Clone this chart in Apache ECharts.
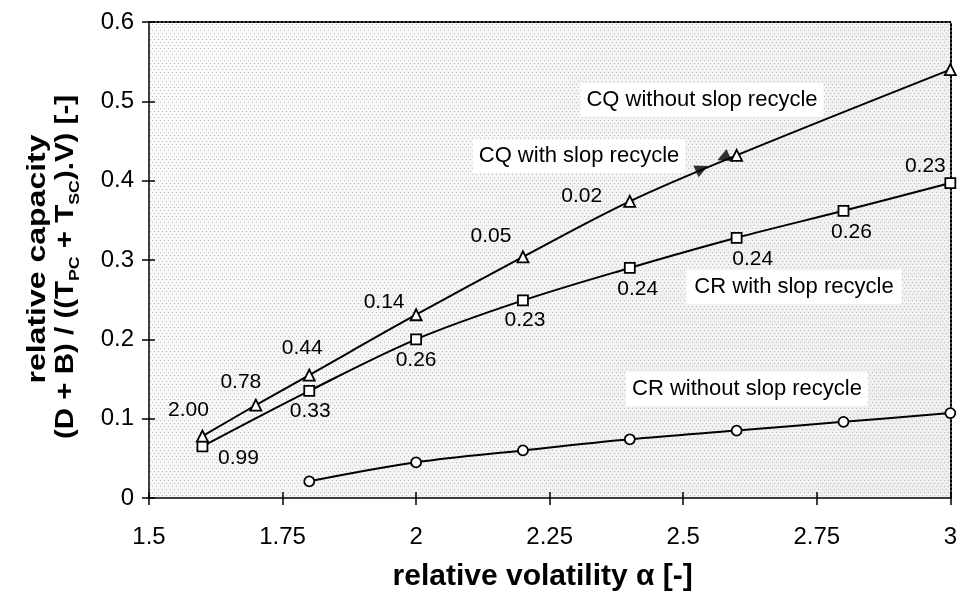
<!DOCTYPE html>
<html>
<head>
<meta charset="utf-8">
<script src="https://cdn.jsdelivr.net/npm/echarts@6/dist/echarts.min.js"></script>
<style>
  html, body { margin: 0; padding: 0; background: #fff; }
  #chart { width: 960px; height: 598px; }
</style>
</head>
<body>
<div id="chart"></div>
<script>
// Relative volatility (x) and relative capacity (y) for each configuration
const cqNoSlopX = [1.6, 1.7, 1.8, 2.0, 2.2, 2.4, 2.6, 3.0];
const cqNoSlopY = [0.078, 0.117, 0.155, 0.231, 0.304, 0.374, 0.432, 0.540];
const cqNoSlopLabels = ['2.00', '0.78', '0.44', '0.14', '0.05', '0.02', '', ''];

const cqSlopX = [2.535, 2.575];
const cqSlopY = [0.415, 0.429];

const crSlopX = [1.6, 1.8, 2.0, 2.2, 2.4, 2.6, 2.8, 3.0];
const crSlopY = [0.065, 0.135, 0.200, 0.249, 0.290, 0.328, 0.362, 0.397];
const crSlopLabels = ['0.99', '0.33', '0.26', '0.23', '0.24', '0.24', '0.26', '0.23'];

const crNoSlopX = [1.8, 2.0, 2.2, 2.4, 2.6, 2.8, 3.0];
const crNoSlopY = [0.021, 0.045, 0.060, 0.074, 0.085, 0.096, 0.107];

const xTicks = { min: 1.5, max: 3, interval: 0.25 };
const yTicks = { min: 0, max: 0.6, interval: 0.1 };

// label placement relative to each point (pixels)
const cqLabelOffsets = [[-14, -26], [-15, -23], [-7, -27], [-32, -13], [-32, -21], [-48, -5], [0, 0], [0, 0]];
const crLabelOffsets = [[36, 12], [1, 20], [0, 21], [2, 20], [8, 21], [16, 21], [8, 21], [-25, -17]];

const FONT = "'Liberation Sans', Arial, sans-serif";
const W = 960, H = 598;

// dotted plot-area fill, a little lighter towards the upper left
function stipple() {
  const c = document.createElement('canvas');
  c.width = W; c.height = H;
  const g = c.getContext('2d');
  const grad = g.createLinearGradient(149, 22, 953, 498);
  grad.addColorStop(0, '#fbfbfb');
  grad.addColorStop(0.5, '#f3f3f3');
  grad.addColorStop(1, '#eeeeee');
  g.fillStyle = grad;
  g.fillRect(0, 0, W, H);
  g.fillStyle = '#bdbdbd';
  for (let y = 0; y < H; y += 3) {
    const shift = (y / 3) % 2 === 0 ? 0 : 2;
    for (let x = shift; x < W; x += 4) g.fillRect(x, y, 1, 1);
  }
  return c;
}

function points(xs, ys, labels, offsets) {
  return xs.map((x, i) => {
    const item = { value: [x, ys[i]] };
    if (labels && labels[i]) {
      item.label = { show: true, formatter: labels[i], offset: offsets[i] };
    }
    return item;
  });
}

const dataLabel = {
  show: false, position: 'inside', color: '#000', fontSize: 21, fontFamily: FONT
};
const blackLine = { color: '#000', width: 2 };

const chart = echarts.init(document.getElementById('chart'), null, { renderer: 'canvas' });

const plainAxis = (extra) => Object.assign({
  type: 'value',
  splitLine: { show: false },
  axisLabel: { show: false },
  axisTick: { show: false },
  axisLine: { show: false, onZero: false }
}, extra);

chart.setOption({
  animation: false,
  backgroundColor: '#fff',
  grid: {
    left: 149, right: 7, top: 22, bottom: 100,
    show: true, borderWidth: 0,
    backgroundColor: { image: stipple(), repeat: 'no-repeat' }
  },
  xAxis: [
    plainAxis(Object.assign({}, xTicks, {
      position: 'bottom',
      axisLine: { show: true, onZero: false, lineStyle: { color: '#000', width: 1.5 } },
      axisTick: { show: true, length: 7, lineStyle: { color: '#000', width: 1.5 } },
      axisLabel: { show: true, color: '#000', fontSize: 24, fontFamily: FONT, margin: 27 },
      name: 'relative volatility α [-]',
      nameLocation: 'middle',
      nameGap: 64,
      nameTextStyle: { color: '#000', fontSize: 30, fontWeight: 'bold', fontFamily: FONT, padding: [0, 14, 0, 0] }
    })),
    plainAxis(Object.assign({}, xTicks, {
      position: 'bottom',
      axisTick: { show: true, inside: true, length: 6, lineStyle: { color: '#000', width: 1.5 } }
    })),
    plainAxis(Object.assign({}, xTicks, {
      position: 'top',
      axisLine: { show: true, onZero: false, lineStyle: { color: '#000', width: 2, type: [2, 2] } }
    }))
  ],
  yAxis: [
    plainAxis(Object.assign({}, yTicks, {
      position: 'left',
      axisLine: { show: true, onZero: false, lineStyle: { color: '#000', width: 1.5 } },
      axisTick: { show: true, length: 7, lineStyle: { color: '#000', width: 1.5 } },
      axisLabel: { show: true, color: '#000', fontSize: 24, fontFamily: FONT, margin: 15 }
    })),
    plainAxis(Object.assign({}, yTicks, {
      position: 'left',
      axisTick: { show: true, inside: true, length: 6, lineStyle: { color: '#000', width: 1.5 } }
    })),
    plainAxis(Object.assign({}, yTicks, {
      position: 'right',
      axisLine: { show: true, onZero: false, lineStyle: { color: '#000', width: 2, type: [2, 2] } }
    }))
  ],
  series: [
    {
      name: 'CR without slop recycle',
      type: 'line', smooth: 0.35,
      data: points(crNoSlopX, crNoSlopY),
      symbol: 'circle', symbolSize: 10,
      itemStyle: { color: '#fff', borderColor: '#000', borderWidth: 1.8 },
      lineStyle: blackLine, z: 3
    },
    {
      name: 'CR with slop recycle',
      type: 'line', smooth: 0.35,
      data: points(crSlopX, crSlopY, crSlopLabels, crLabelOffsets),
      symbol: 'rect', symbolSize: 10,
      itemStyle: { color: '#fff', borderColor: '#000', borderWidth: 1.8 },
      lineStyle: blackLine, label: dataLabel, z: 3
    },
    {
      name: 'CQ without slop recycle',
      type: 'line', smooth: 0.35,
      data: points(cqNoSlopX, cqNoSlopY, cqNoSlopLabels, cqLabelOffsets),
      symbol: 'triangle', symbolSize: 11,
      itemStyle: { color: '#fff', borderColor: '#000', borderWidth: 1.8 },
      lineStyle: blackLine, label: dataLabel, z: 3
    },
    {
      name: 'CQ with slop recycle',
      type: 'scatter',
      data: cqSlopX.map((x, i) => ({ value: [x, cqSlopY[i]], symbolRotate: i === 0 ? -66 : 114 })),
      symbol: 'triangle', symbolSize: 13,
      itemStyle: { color: '#000' }, z: 4
    }
  ],
  graphic: [
    {
      type: 'text', x: 38, y: 259, rotation: Math.PI / 2, scaleX: 1.28,
      style: { text: 'relative capacity', font: "bold 25px " + FONT, fill: '#000', align: 'center', verticalAlign: 'middle' }
    },
    {
      type: 'text', x: 66, y: 267, rotation: Math.PI / 2, scaleX: 1.18,
      style: {
        text: '(D + B) / ((T{s|PC} + T{s|SC}).V) [-]',
        font: "bold 25px " + FONT, fill: '#000', align: 'center', verticalAlign: 'middle',
        rich: {
          s: { fontSize: 15, fontWeight: 'bold', fontFamily: FONT, fill: '#000', verticalAlign: 'bottom', lineHeight: 32 }
        }
      }
    },
    {
      type: 'text', x: 702, y: 100, z: 10,
      style: { text: 'CQ without slop recycle', font: "22px " + FONT, fill: '#000', align: 'center', verticalAlign: 'middle',
        backgroundColor: '#fff', padding: [6, 6] }
    },
    {
      type: 'text', x: 579, y: 156, z: 10,
      style: { text: 'CQ with slop recycle', font: "22px " + FONT, fill: '#000', align: 'center', verticalAlign: 'middle',
        backgroundColor: '#fff', padding: [6, 6] }
    },
    {
      type: 'text', x: 794, y: 287, z: 10,
      style: { text: 'CR with slop recycle', font: "22px " + FONT, fill: '#000', align: 'center', verticalAlign: 'middle',
        backgroundColor: '#fff', padding: [6, 8] }
    },
    {
      type: 'text', x: 747, y: 389, z: 10,
      style: { text: 'CR without slop recycle', font: "22px " + FONT, fill: '#000', align: 'center', verticalAlign: 'middle',
        backgroundColor: '#fff', padding: [6, 6] }
    }
  ]
});
</script>
</body>
</html>
